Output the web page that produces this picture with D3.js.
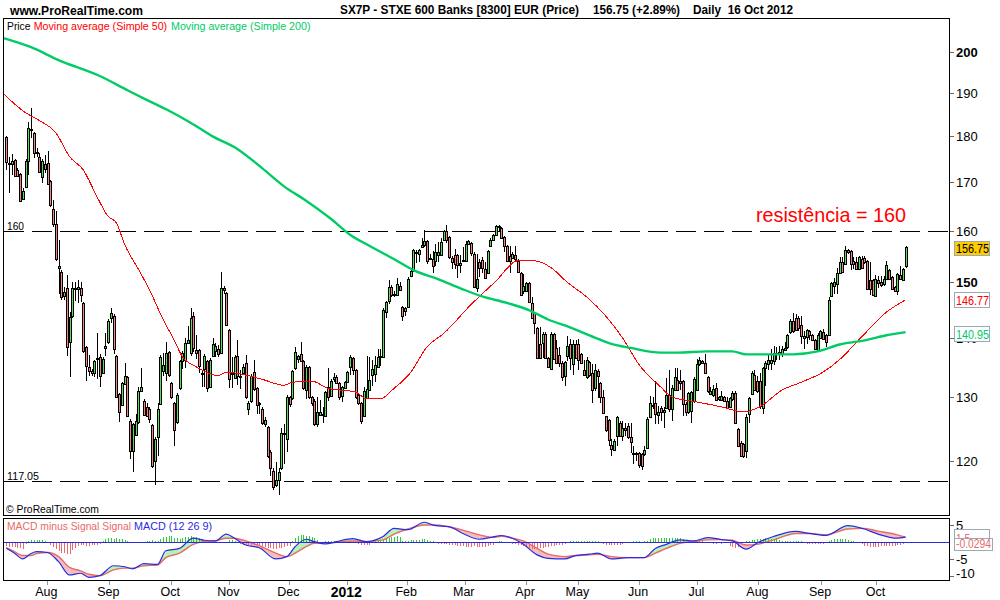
<!DOCTYPE html>
<html><head><meta charset="utf-8">
<script src="https://cdnjs.cloudflare.com/ajax/libs/d3/7.8.5/d3.min.js"></script>
<style>
html,body{margin:0;padding:0;background:#fff}
svg{display:block}
text{font-family:"Liberation Sans",Arial,sans-serif;fill:#000}
</style></head><body><svg id="c" width="1000" height="600"></svg>
<script>
const opens=[179.9,174,173.9,174.8,172.6,171.7,166.4,169,174.6,181.5,
180.7,176.5,175.5,171,174,174.2,170.2,164.3,161.4,153,
152,147.4,149,139.2,143.9,148.9,148.7,149,146.2,138.3,
134.9,134.2,133.9,136.4,136.6,133.9,138.2,139.2,143.4,143.9,
136.8,130.5,128.7,132.1,133.2,126.2,121.5,124,126,131,
129.4,128.4,128,125.5,120,123.6,128.9,134.2,134,137.5,
132.3,129,126,131.4,135.9,136.2,139,137.3,143.8,137.9,
137.9,134,134.6,135.9,131.7,136.9,137.6,138,137.3,149,
148,141.3,133.8,133.1,136.9,133.5,134,135.7,128.1,129.3,
134.1,131.5,129,128,125.7,125.2,121.4,118.5,116.5,117.2,
118.9,124.2,123.3,130,129.8,134.7,136.3,137.2,136,131.1,
135,130,129.4,125.7,127.1,127.2,127,131.6,130.2,133,
133.2,132.2,130.1,131.5,132.4,134.9,136.4,134.4,130.3,129,
126.9,129.8,131.2,133.6,133.8,135,136.7,136.7,144.6,146.6,
149.2,147.6,147.7,149.4,145.5,144.8,145.5,151.2,152.1,155.7,
155.5,156.7,157.1,157.9,154.7,154.4,154.1,155.2,155.3,158.1,
159.9,158.8,154.7,155.2,155.2,153.3,154,154.1,157.4,157.6,
155.5,149,153.8,154.3,152.6,151.7,156.9,158.2,159.2,160.9,
160.5,158.8,157,155,154.7,155.3,154.1,151.7,148.4,148.4,
149.8,146.2,144.4,141.6,138.9,139,140.6,136.5,134.6,140.6,
138.2,137,135.7,133.4,136.9,138.9,135.4,138.8,138.8,137.1,
134.5,133.2,135.8,134,131.5,134.2,132.2,130,126.9,126.3,
122.4,121.7,123.8,125.9,123.8,125,125.3,123.7,121.2,121.2,
121.2,121,121,122,126.8,128.7,129,127.1,128.2,127.6,
128.2,130.3,128,131.2,132.8,132.6,132.6,128.9,127.5,127.8,
129.3,131.2,135.4,135.9,135.6,133.3,130.5,130.3,131.5,129.6,
129.5,130,129.3,128.4,129.6,130.7,124.9,122.8,122.5,121.5,
127.2,130.5,133.6,132.6,132.6,128.2,134.8,135.4,135.6,136,
137.2,137.2,137.2,137.9,138.3,140.9,142.9,143.5,143.5,142.2,
140,140.1,141.2,140.5,139.6,137.8,140,140.9,140.5,140.5,
147.5,149.3,149.6,151.7,153.8,153.5,156.2,156,154.1,153.8,
152.6,154.4,154.7,154,150.5,150.5,147.5,150.4,150,149.6,
150.7,152.4,151,149.2,148.4,151.3,150.4,153];
const closes=[174.3,174.2,174.6,171.3,171.4,166,168.2,174.6,181.8,181.6,
176.3,176.2,172.2,174.6,172.8,169.6,165.2,161.4,154.5,152.8,
147.2,148.2,138.4,143.7,149,148.9,149.2,147.7,137.6,135.1,
134.2,134,135.9,136.5,133.4,136.3,138.6,142.9,144.3,138,
130,127.6,132.2,133.5,127,121.5,125.6,126.2,131,131.7,
127.1,127,126.4,119.2,123.3,128,136.6,135.3,137.4,133.6,
130,124.7,130.3,135.9,137.4,139,139.6,143.5,138.2,137.4,
135.2,134,136.9,131.4,136.2,138.8,138.6,137.2,149,148.6,
142.2,133,134,136.6,133.4,133.3,135,130,129,133.5,
131.3,128.7,128.8,125.9,126.3,120.7,118.9,116.2,117.2,118.3,
124.3,124.1,130,128.8,134.2,137.5,136.8,136,131.5,135,
130,129,125.7,127.5,127.5,127.1,130.8,130,132.6,133.2,
132.3,130,131.6,132.4,134.1,136.7,134.4,130,129,126.2,
130.9,131.3,132.8,134.6,135.3,136.6,136.8,144.9,146.3,149.2,
147.6,147.9,149.7,148.6,143.8,145.2,150.7,152.2,156.2,155.7,
156.2,157.1,157.9,154.1,154.6,153,155.7,155.7,157.8,159.9,
158.1,154.9,153.8,153.5,153.3,153.6,154.3,157.3,157.9,155.6,
149.2,150.6,152.8,152.8,150.9,155.9,158.2,159.2,161,160.8,
158.5,157,154.1,154.1,155.5,154.4,152,147.6,149.3,149.9,
146.4,143.4,142.5,136.5,136.5,140.6,136.5,134.9,140.6,136.3,
135.7,135.7,133.2,135.8,138.6,136.5,138.8,136.5,136.2,135.7,
133.6,136.1,133.6,131.2,134.4,133.5,130,127.4,124.7,123.2,
121.8,123,126.8,123.8,125,124.8,123.6,122.9,121.1,121.1,
119.4,119.2,121.6,126.5,129,128.6,127.3,127.6,127.5,127.9,
130.3,128,131.5,133.3,131.1,132.2,128.9,127.5,130.6,130.8,
133,135.5,136.1,135.6,134,130.9,130.9,131.3,129.5,130,
130.2,129.4,128.2,129.8,130.7,125.9,122.3,120.8,120.7,126.7,
129.8,134,131.2,130.9,128.5,134.8,135.7,136.2,136.2,137.4,
137.4,137.5,138,138.2,140.5,143,141.1,141.4,141.7,140.3,
140.3,141.3,140.5,139.6,138,140.5,141.1,139.7,139.3,146.7,
149.8,150,151.7,153.8,152,156.2,155.7,153.5,153.5,152.6,
154.9,152.8,153.8,148.8,148.7,147.6,150.6,149.8,149.5,150.6,
153.3,150.7,148.7,148.4,151.5,150.6,152.5,156.75];
const highs=[180,175.4,176,175,173,172,168.8,175,183.2,186.5,
181,177.4,176.2,175,175.8,176.8,170.4,166.3,164,158.2,
152.3,149.2,151.4,144.5,150,150,150.4,150,146.4,138.5,
137,134.6,136.2,140.8,137.2,136.7,140.8,143.2,145.2,144.1,
137,130.7,132.4,135.7,133.4,126.4,125.8,127.3,131.6,134.8,
129.6,129,128.3,125.7,123.6,129,137,137.3,139.2,137.7,
132.5,129.2,130.6,136.2,137.6,140,142,145.2,144.5,140.4,
138.1,134.5,137.1,136.1,136.5,140,139,138.7,152,149.4,
148.2,141.5,136.7,137,139.5,134.5,135.5,137,129.3,133.8,
136.2,131.7,129.2,128.3,126.7,125.4,121.7,118.9,119.8,119,
125,125.6,130.3,130.2,134.5,138.4,137,139.2,136.2,135.3,
135.2,130.2,129.6,130,129.5,128.4,131,134.8,133,134,
133.6,132.4,131.8,132.6,134.2,137,136.6,134.6,130.6,129.2,
131.7,136.8,136.7,136.2,136.9,138,138,145.2,146.6,150.5,
149.5,148.3,150.9,150,145.7,145.5,151,152.6,156.4,156.1,
156.3,158.6,160.2,158.2,155.4,156,157.3,157.8,158.6,160.1,
161.2,159,155,156.4,155.4,155.2,156.8,158,158.1,157.8,
155.7,155.5,154.4,154.8,153.8,156.1,158.5,159.4,161.2,161.2,
160.7,159,157.2,157,155.7,157,154.4,151.9,151.5,150,
150,147.3,144.6,141.8,141.8,141,141,136.7,140.9,140.8,
139.6,138.4,135.9,136,140.3,139.8,139.5,139.5,139.8,137.3,
136.2,136.6,136,135.4,135.4,134.6,132.4,131.2,127,126.5,
123.3,123.3,127,126.1,126.2,125.8,125.8,125.8,122.2,121.3,
121.4,121.2,122.2,126.7,130.2,130,132.6,128.5,128.5,128.4,
133.1,134.4,132,134.8,134.8,134.5,132.8,129.1,130.8,131,
133.2,136.3,136.7,136.1,137.2,133.5,131.7,132,132.3,130.2,
130.9,130.2,130,130,131,130.9,125.1,123,122.7,127.2,
130,134.2,134.4,133.4,134,135,135.9,137.1,138,138.6,
138.3,138.6,138.6,139.2,140.7,143.2,144.4,144.2,143.8,143.8,
141.2,141.5,141.4,140.7,139.8,140.8,141.3,141.5,140.7,147.2,
150,150.9,152.8,154.8,154.8,156.9,156.4,156.2,154.8,154.8,
155,155,155,154.2,153.8,150.7,151.4,151.2,151.2,151.1,
154,152.6,151.2,149.4,151.7,153.1,152.7,156.9];
const lows=[172.6,167.8,171.5,171,171,165.8,166.2,168.7,171.5,179.7,
175.2,175.5,172,169.8,172,169.4,164.8,160.8,154,147.9,
146.8,146.8,136.9,133.2,143.5,146.5,146.2,146.3,137.3,132.6,
133.5,133.5,133.2,133,131.7,133.7,136.9,138.8,142.5,137.2,
129.8,126,128.5,132,126.8,120.3,118.4,123.8,125.6,130.8,
126.9,126.8,125.9,118.9,116.4,120.7,128.7,133.5,132.6,133.2,
129.7,122.3,125.7,131.2,134.6,134.8,138.8,136.9,137.5,136.3,
134,131.7,131.7,130.8,131.5,136.7,136.6,136.6,137.1,147.8,
142,131.4,131.5,132.9,132,131.3,133.7,129.7,127.1,129,
131,127.2,127.2,125.5,125.2,120.4,117.8,115.8,116.2,115,
118.7,119.5,121.4,128.4,129.5,134.4,135.7,135.8,131.2,129.7,
129.6,128.6,125.4,125.2,126.9,125.9,126.7,129.4,130,132.5,
132.1,129.5,129.2,131.3,132.2,133.6,133.6,129.7,128.7,125.7,
126.7,129.6,131,131.8,132.4,134.7,135.2,136.5,143.5,146,
147.2,147.3,147.5,148.3,142.9,143.8,145.3,151,151.9,153.6,
153.9,156.5,156.8,153.5,154.2,151.7,153.1,153.8,155.1,157.9,
157.6,154.4,152.5,152.5,150.9,151.7,153.8,153.9,157.2,155,
149,148.2,151,151.8,150.6,151.5,156.7,158,159,159.9,
158.3,155.7,153.8,151.8,154.5,153.8,151.8,147.4,147.9,148.2,
146.2,143.2,140.7,136.3,136.3,136.5,136.3,134.7,134.4,136.1,
135.5,135,132.6,131.8,136,134.5,133.6,136.3,134.5,135.5,
133.4,132.9,133.3,129,130.9,129.9,129,127.3,124.5,122.2,
120.8,121.5,122.2,123.6,123,123.8,123.3,121.2,119.6,120,
119,118.7,120.8,121.9,126.6,128,125.6,125.6,126.2,125.1,
128,127.5,126.2,131,130.9,131.2,126.9,126.9,127.3,125.8,
129,131,135.2,135.4,133.8,130.7,130.3,130,129.3,129.4,
129.3,129.2,128.1,128.2,129.4,125.6,122.1,120.6,120.4,120.4,
125.9,130.3,131,130.7,128,127.3,131.8,134.4,134.4,135.3,
136.1,136.1,136.7,137.7,138.1,140.7,140.8,141.2,141.1,138.9,
138.1,138.9,139.6,139.4,137.8,137.6,139.8,139.5,138.4,140.3,
147.3,147.9,147.8,151.5,151.8,153.3,155.5,152.4,152.5,152.4,
152.4,152.6,153.5,148.6,147.7,147.4,147.3,149,149.2,149.4,
150.5,150.5,148.5,148.2,147.6,150.4,150.2,152.8];

const ma50Bars=[-1,7,12,18,23,28,33,37,40,43,48,52,57,61,64,69,77,80,87,93,101,104,111,117,127,131,136,141,147,153,159,169,178,186,192,198,204,211,218,224,230,238,242,251,260,268,274,282,289,297,303,310,320,327];
const ma50Values=[189.8,185.4,183.6,180.8,175.5,172.6,166.9,162.9,161.6,157.3,152.5,148.7,143.2,139.6,136.7,135,133.5,134.1,133.6,132.9,131.9,132.4,132.6,131.4,130.8,129.7,129.7,131.4,134,138.4,140.7,145.9,150.2,154.1,154.1,152.8,150,147.3,143.8,140,135.4,131.6,130,129.2,128.4,127.6,128.4,131.1,132.4,134.1,136.2,139.6,144.5,146.77];
const ma200Bars=[-1,9,19,34,44,51,59,67,75,84,93,101,109,118,125,132,142,148,157,166,173,182,190,197,205,214,220,227,238,244,255,264,269,278,286,295,303,313,320,327];
const ma200Values=[203.5,201.2,198,194.1,190.7,188.4,185.9,183.1,180,177.2,173,169.1,166.1,162.4,159.2,157,154.1,152.3,150.6,148.7,147.4,146.2,144.9,143.2,141.8,140,138.9,138.2,137.4,137.4,137.6,137.6,137.1,137.1,137.1,137.6,138.8,139.6,140.4,140.95];

const macdBars=[0,3,6,9,11,15,19,23,27,30,34,39,43,46,50,55,58,63,68,72,76,80,83,87,92,98,102,105,109,112,116,120,126,131,137,141,146,152,156,161,166,172,177,180,184,188,193,197,203,207,212,215,220,226,232,236,240,245,250,255,260,264,269,273,279,287,292,298,306,312,317,324,327];
const macdValues=[-1.76,-3.2,-4.9,-3.3,-2.75,-3,-5.7,-9.6,-9.1,-10.3,-9.8,-6.9,-7.2,-7.8,-6.3,-6.5,-2.5,-1.8,1.2,0.6,0.4,2.4,1.2,-0.8,-1.6,-4.9,-4.2,-1.3,0.9,0.2,-0.5,0.2,1.1,0.2,1.7,4.1,3.7,5.9,4.9,4.6,2.6,0.9,1.6,2,1.2,-0.6,-3.7,-4.7,-4.9,-3.9,-3.5,-3.2,-4.9,-4.5,-4.5,-1.8,-0.6,0.7,0.4,1.4,0.8,0.4,-2,-0.2,1.7,3.2,2.6,2,4.9,3.9,2.4,1.2,1.5];
const signalValues=[-1.57,-2.75,-3.9,-3.9,-3.3,-3,-4.2,-7.4,-8.4,-9.4,-9.8,-8.1,-7.6,-7.6,-6.9,-6.7,-4.5,-3.2,-0.6,0.2,0.4,1.2,1.2,0.4,-1,-3.2,-4.2,-3.2,-1.3,-0.3,-0.3,0,0.4,0.2,0.7,2.4,3.9,5.1,5.1,4.5,3.6,2.2,1.4,1.8,1.2,0.4,-1.8,-3.5,-4.2,-3.9,-3.7,-3.5,-4.2,-4.5,-4.5,-3.2,-1.8,-0.3,0.2,0.7,0.8,0.6,-0.8,-0.6,0.7,2.6,2.6,2.2,3.9,4.1,3.3,2.2,1.5];
const histValues=[-1.2,-1.4,-1.4,-1.5,-1.6,-1.8,-2,-.4,.5,.7,
.8,.8,.7,.6,.5,-.3,-.8,-1.3,-2,-2.6,
-3,-3.2,-3.4,-3.3,-2.4,-1.6,-1,-.7,-.9,-1.2,
-1,-.9,-.8,-.7,-.4,.5,.9,1.2,1.3,1,
1.4,.9,.9,.8,.4,.2,.1,-.3,-.3,-.3,
.2,.4,.4,.6,.5,.3,.9,1.5,1.6,1.9,
1.9,1.4,1.2,1,1.3,1.6,1.7,1.9,1.6,1.7,
1.4,.9,.6,.2,.1,.2,.2,.1,.1,.1,
.2,.8,.6,.3,-.3,-.5,-.7,-.8,-.9,-.9,
-.8,-.9,-1.1,-1.3,-1.5,-1.6,-1.7,-1.9,-1.9,-1.8,
-1.7,-1.5,-1.2,-1,.5,1.2,1.8,2.1,2.2,2,
1.9,1.6,1.2,.8,.2,-.1,.4,.5,.3,.3,
.3,.3,.2,.5,.5,.4,.3,.1,-.4,-.7,
-.8,-.8,-.7,.2,.3,.3,.6,.8,1.1,1.3,
1.5,1.7,1.9,1.6,.5,.4,.3,.6,.7,.8,
.8,.9,.9,.7,.5,.3,-.3,-.4,-.4,-.4,
-.6,-.7,-.8,-.9,-1,-1.1,-1.2,-1.3,-1.3,-1.3,
-1.2,-1.3,-1.5,-1.4,-1.3,-1.2,-.9,-.7,-.3,.3,
.3,.2,-.2,-.3,-.5,-.6,-.7,-.9,-1.2,-1.5,
-1.7,-1.9,-1.9,-1.8,-1.8,-1.6,-1.5,-1.3,-1.1,-1,
-.9,-.9,-.7,-.6,-.3,.3,.3,.3,.3,.3,
.3,.3,.3,.3,.3,.3,.2,-.5,-.7,-.8,
-.9,-.9,-.8,-.7,-.5,-.3,.1,.2,.3,.3,
.3,.2,.3,.4,1,1.2,1.4,1.4,1.4,1.4,
1.4,1.4,1.4,1.4,1.4,1.3,1.1,.5,.4,.3,
.6,.5,.4,.3,.1,-.3,-.3,-.4,-.5,-.3,
-.4,-.2,-.3,-1,-1.5,-1.7,-1.3,-.6,-.3,.4,
.3,.7,.6,.9,1,.9,1.2,1,1.1,1.1,
1.2,.6,.5,.4,.4,.4,.3,.4,.3,.3,
.2,-.4,-.5,-.5,-.5,-.6,-.6,-.5,-.1,.5,
.8,1,1,1,1,1,.7,.5,.4,.2,
.1,-.5,-1,-1.2,-1.3,-1.3,-1.4,-1.3,-1.2,-1.2,
-1.2,-1.1,-1.1,-1,-.9,-.8,-.6,-.3];

const priceTicks=[200,190,180,170,160,150,140,130,120];
const boldPriceTicks=[200,150];
const levelLines=[160,117.05];
const monthPos=[14.9,37.45,60,81.1,102.9,124,145.8,166.7,189,208,230.1,251.3,273.5,296.3,316.4];
const monthLabels=["Aug","Sep","Oct","Nov","Dec","2012","Feb","Mar","Apr","May","Jun","Jul","Aug","Sep","Oct"];
const macdTicks=[5,-5,-10];

const RED="#ff0000",GREEN="#00cc66",MRED="#e86a6a",BLUE="#2a2ae0";
const svg=d3.select("#c");
const x=d3.scaleLinear().domain([0,327]).range([6.3,905.6]);
const y=d3.scaleLog().domain([120,200]).range([461,52]);
const ym=d3.scaleLinear().domain([-10,5]).range([576.3,525.3]);
const L=3,R=949,T=18,B=515,MT=518,MB=580;
const px=i=>Math.round(x(i));

function txt(g,s,xx,yy,size,fill,opts={}){
  const t=g.append("text").attr("x",xx).attr("y",yy).attr("font-size",size)
    .style("fill",fill||"#000").attr("font-weight",opts.bold?"bold":null)
    .attr("text-anchor",opts.anchor||"start").text(s);
  if(opts.len) t.attr("textLength",opts.len).attr("lengthAdjust","spacingAndGlyphs");
  return t;
}

// header
txt(svg,"www.ProRealTime.com",10,15,13,"#000",{bold:true,len:133});
txt(svg,"SX7P - STXE 600 Banks [8300] EUR (Price)",340,14,12,"#000",{bold:true,len:239});
txt(svg,"156.75 (+2.89%)",593,14,12,"#000",{bold:true,len:87});
txt(svg,"Daily  16 Oct 2012",693,14,12,"#000",{bold:true,len:100}).style("white-space","pre");

// level lines
const gLevel=svg.append("g");
gLevel.selectAll("line").data(levelLines).join("line")
  .attr("x1",L+1).attr("x2",R).attr("y1",d=>Math.round(y(d))+.5).attr("y2",d=>Math.round(y(d))+.5)
  .attr("stroke","#000").attr("stroke-width",1).attr("stroke-dasharray","20 8").attr("shape-rendering","crispEdges");
txt(svg,"160",7,230,11.5,"#000",{len:17});
txt(svg,"117.05",7,480,11.5,"#000",{len:32});

// candles
const n=opens.length;
const gC=svg.append("g").attr("shape-rendering","crispEdges");
const idx=d3.range(n);
gC.selectAll("line").data(idx).join("line")
  .attr("x1",i=>px(i)+.5).attr("x2",i=>px(i)+.5)
  .attr("y1",i=>y(highs[i])).attr("y2",i=>y(lows[i]))
  .attr("stroke","#000").attr("stroke-width",1);
gC.selectAll("rect").data(idx).join("rect")
  .attr("x",i=>px(i)-.5).attr("width",2)
  .attr("y",i=>Math.round(y(Math.max(opens[i],closes[i])))+.5)
  .attr("height",i=>Math.max(1,Math.round(y(Math.min(opens[i],closes[i])))-Math.round(y(Math.max(opens[i],closes[i])))))
  .attr("fill",i=>closes[i]>=opens[i]?"#55e055":"#f28484")
  .attr("stroke","#000").attr("stroke-width",1);

// moving averages
const line=d3.line().x(d=>x(d[0])).y(d=>y(d[1])).curve(d3.curveMonotoneX);
svg.append("path").datum(d3.zip(ma50Bars,ma50Values)).attr("d",line)
  .attr("fill","none").attr("stroke",RED).attr("stroke-width",1).attr("shape-rendering","crispEdges");
svg.append("path").datum(d3.zip(ma200Bars,ma200Values)).attr("d",line)
  .attr("fill","none").attr("stroke",GREEN).attr("stroke-width",2.4);

// annotation
txt(svg,"resistência = 160",756,222,21,RED,{len:150});

// legend
txt(svg,"Price",7,30,11.5,"#000",{len:23.5});
txt(svg,"Moving average (Simple 50)",33.7,30,11.5,RED,{len:133.5});
txt(svg,"Moving average (Simple 200)",171,30,11.5,GREEN,{len:139.5});
txt(svg,"\u00a9 ProRealTime.com",6,513,11.5,"#000",{len:93});

// MACD panel
const gM=svg.append("g");
const cross=d3.zip(macdBars,macdValues,signalValues);
const area=d3.area().x(d=>x(d[0])).y0(d=>ym(d[1])).y1(d=>ym(d[2]));
for(let k=0;k<cross.length-1;k++){
  const a=cross[k],b=cross[k+1];
  gM.append("path").attr("d",area([a,b]))
    .attr("fill",(a[1]+b[1]-a[2]-b[2])>=0?"#b6f2b6":"#f5bcbc");
}
gM.append("g").attr("shape-rendering","crispEdges").selectAll("line").data(histValues).join("line")
  .attr("x1",(d,i)=>px(i)+.5).attr("x2",(d,i)=>px(i)+.5)
  .attr("y1",ym(0)).attr("y2",d=>ym(d))
  .attr("stroke",d=>d>=0?"#33cc33":MRED).attr("stroke-width",1);
const lm=d3.line().x(d=>x(d[0])).y(d=>ym(d[1])).curve(d3.curveMonotoneX);
gM.append("path").datum(d3.zip(macdBars,signalValues)).attr("d",lm).attr("fill","none").attr("stroke",MRED).attr("stroke-width",1.4);
gM.append("path").datum(d3.zip(macdBars,macdValues)).attr("d",lm).attr("fill","none").attr("stroke",BLUE).attr("stroke-width",1.2);
gM.append("line").attr("x1",L).attr("x2",R).attr("y1",Math.round(ym(0))+.5).attr("y2",Math.round(ym(0))+.5)
  .attr("stroke",BLUE).attr("stroke-width",1).attr("shape-rendering","crispEdges");
txt(svg,"MACD minus Signal Signal",7,530,11.5,MRED,{len:124});
txt(svg,"MACD (12 26 9)",134,530,11.5,BLUE,{len:78});

// frames
const gF=svg.append("g").attr("fill","none").attr("stroke","#000").attr("shape-rendering","crispEdges");
gF.append("rect").attr("x",L+.5).attr("y",T+.5).attr("width",R-L).attr("height",B-T);
gF.append("rect").attr("x",L+.5).attr("y",MT+.5).attr("width",R-L).attr("height",MB-MT);

// price axis
const gA=svg.append("g");
gA.selectAll("line").data(priceTicks).join("line")
  .attr("x1",R+1).attr("x2",R+5).attr("y1",d=>Math.round(y(d))+.5).attr("y2",d=>Math.round(y(d))+.5)
  .attr("stroke","#666").attr("shape-rendering","crispEdges");
priceTicks.forEach(t=>txt(gA,String(t),956,y(t)+5,13,"#000",{bold:boldPriceTicks.includes(t)}));

// month axis
const gX=svg.append("g");
gX.selectAll("line").data(monthPos).join("line")
  .attr("x1",d=>Math.round(x(d))+.5).attr("x2",d=>Math.round(x(d))+.5).attr("y1",MB+1).attr("y2",MB+5)
  .attr("stroke","#8899aa").attr("shape-rendering","crispEdges");
monthPos.forEach((p,i)=>{
  const bold=monthLabels[i]==="2012";
  txt(gX,monthLabels[i],x(p)-1,bold?597:596,bold?14:12.5,"#000",{bold,anchor:"middle"});
});

// MACD axis
const gY=svg.append("g");
gY.selectAll("line").data(macdTicks).join("line")
  .attr("x1",R+1).attr("x2",R+5).attr("y1",d=>Math.round(ym(d))+.5).attr("y2",d=>Math.round(ym(d))+.5)
  .attr("stroke","#666").attr("shape-rendering","crispEdges");
macdTicks.forEach(t=>txt(gY,String(t),956,ym(t)+(t===-10?2:5),13,"#000"));

// value boxes
function box(yy,h,w,fill,s,col,base,len){
  const g=svg.append("g");
  g.append("rect").attr("x",954.5).attr("y",yy+.5).attr("width",w).attr("height",h)
    .attr("fill",fill).attr("stroke","#9aa9b5").attr("shape-rendering","crispEdges");
  txt(g,s,956,base,13,col,{len});
}
box(292,15,35,"#fff","146.77",RED,304.5,33);
box(326,15,35,"#fff","140.95",GREEN,338.5,33);
box(241,14,35,"#ffcc00","156.75","#000",253,33);
box(529,15,35,"#fff","1.5",MRED,543,14);
box(538,12,38,"#fff","-0.0294",MRED,547.5,35);
</script></body></html>
